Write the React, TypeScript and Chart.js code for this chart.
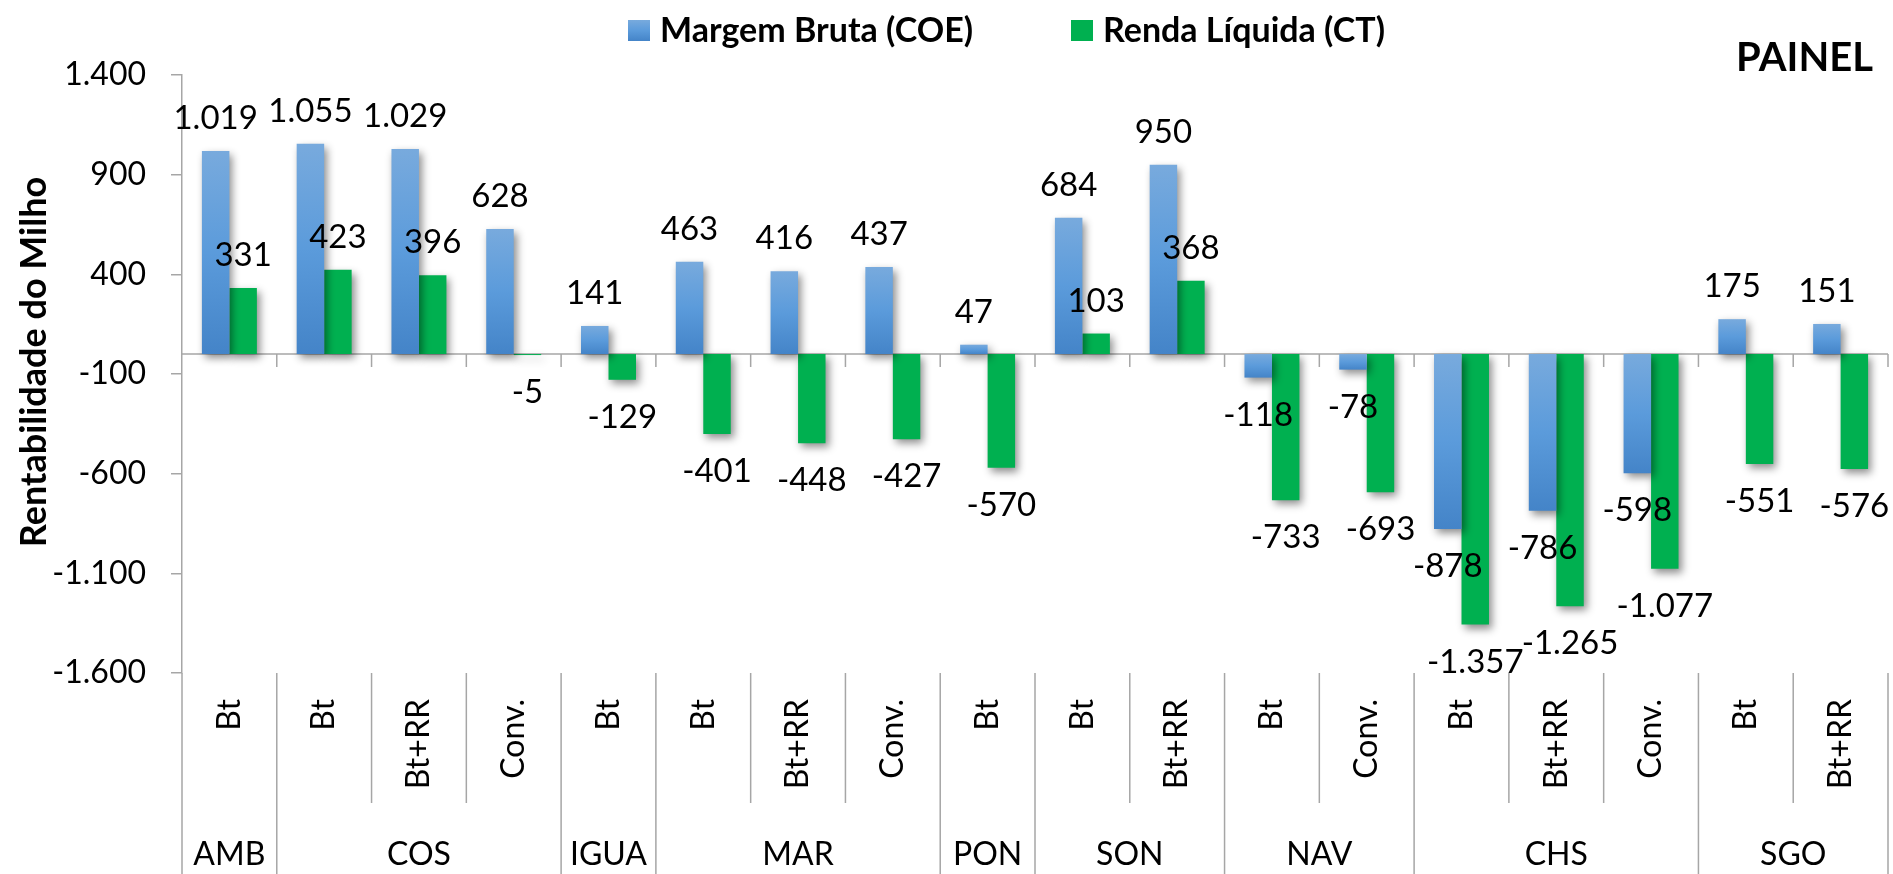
import React, { useEffect, useRef } from "react";
import { Chart, registerables } from "chart.js";

Chart.register(...registerables);

// ---------- data ----------
const groupLabels = [
  "AMB", "COS", "COS", "COS", "IGUA", "MAR", "MAR", "MAR", "PON",
  "SON", "SON", "NAV", "NAV", "CHS", "CHS", "CHS", "SGO", "SGO",
];
const varietyLabels = [
  "Bt", "Bt", "Bt+RR", "Conv.", "Bt", "Bt", "Bt+RR", "Conv.", "Bt",
  "Bt", "Bt+RR", "Bt", "Conv.", "Bt", "Bt+RR", "Conv.", "Bt", "Bt+RR",
];
const margemBruta = [
  1019, 1055, 1029, 628, 141, 463, 416, 437, 47,
  684, 950, -118, -78, -878, -786, -598, 175, 151,
];
const rendaLiquida = [
  331, 423, 396, -5, -129, -401, -448, -427, -570,
  103, 368, -733, -693, -1357, -1265, -1077, -551, -576,
];
const yTickValues = [-1600, -1100, -600, -100, 400, 900, 1400];
const seriesNames = ["Margem Bruta (COE)", "Renda Líquida (CT)"];
const panelTitle = "PAINEL";
const yAxisTitle = "Rentabilidade do Milho";

// ---------- helpers ----------
const fmt = (v: number) => {
  const s = Math.abs(Math.round(v)).toString().replace(/\B(?=(\d{3})+(?!\d))/g, ".");
  return v < 0 ? "-" + s : s;
};
const FONT = "Lato";
const GREEN = "#00b050";
const AXIS_GREY = "#a6a6a6";

function blueGradient(ctx: CanvasRenderingContext2D, top: number, bottom: number) {
  const g = ctx.createLinearGradient(0, top, 0, bottom);
  g.addColorStop(0, "#78aadd");
  g.addColorStop(0.5, "#5b9bdb");
  g.addColorStop(1, "#4484c8");
  return g;
}

export default function App() {
  const ref = useRef<HTMLCanvasElement>(null);

  useEffect(() => {
    document.body.style.margin = "0";
    const canvas = ref.current!;
    const H = 874;

    const decor = {
      id: "decor",
      beforeDatasetsDraw(chart: any) {
        const { ctx, chartArea, scales } = chart;
        const y0 = scales.y.getPixelForValue(0);
        const n = varietyLabels.length;
        const bw = (chartArea.right - chartArea.left) / n;
        ctx.save();
        ctx.strokeStyle = AXIS_GREY;
        ctx.lineWidth = 1.5;
        ctx.beginPath();
        ctx.moveTo(chartArea.left, y0);
        ctx.lineTo(chartArea.right, y0);
        for (let i = 1; i <= n; i++) {
          const x = chartArea.left + i * bw;
          ctx.moveTo(x, y0);
          ctx.lineTo(x, y0 + 13);
        }
        ctx.stroke();
        ctx.restore();
      },
      beforeDatasetDraw(chart: any) {
        const ctx = chart.ctx;
        ctx.save();
        ctx.shadowColor = "rgba(0,0,0,0.45)";
        ctx.shadowBlur = 8;
        ctx.shadowOffsetX = 3;
        ctx.shadowOffsetY = 4;
      },
      afterDatasetDraw(chart: any) {
        chart.ctx.restore();
      },
      afterDraw(chart: any) {
        const { ctx, chartArea } = chart;
        const n = varietyLabels.length;
        const bw = (chartArea.right - chartArea.left) / n;
        ctx.save();
        // separators in label area
        ctx.strokeStyle = AXIS_GREY;
        ctx.lineWidth = 1.5;
        ctx.beginPath();
        for (let i = 0; i <= n; i++) {
          const x = chartArea.left + i * bw;
          const isGroup = i === 0 || i === n || groupLabels[i] !== groupLabels[i - 1];
          ctx.moveTo(x, chartArea.bottom);
          ctx.lineTo(x, isGroup ? H : 803);
        }
        ctx.stroke();

        // group labels
        ctx.fillStyle = "#000";
        ctx.font = `32px ${FONT}`;
        ctx.textAlign = "center";
        ctx.textBaseline = "alphabetic";
        let start = 0;
        for (let i = 1; i <= n; i++) {
          if (i === n || groupLabels[i] !== groupLabels[start]) {
            const cx = chartArea.left + ((start + i) / 2) * bw;
            ctx.fillText(groupLabels[start], cx, 865);
            start = i;
          }
        }

        // data labels
        ctx.font = `33px ${FONT}`;
        chart.data.datasets.forEach((ds: any, di: number) => {
          const meta = chart.getDatasetMeta(di);
          meta.data.forEach((el: any, i: number) => {
            const v = ds.data[i];
            const y = v >= 0 ? el.y - 22 : el.y + 48;
            ctx.fillText(fmt(v), el.x, y);
          });
        });

        // legend
        ctx.font = `bold 34px ${FONT}`;
        ctx.textAlign = "left";
        ctx.textBaseline = "middle";
        const legendX = [628, 1071];
        seriesNames.forEach((name, i) => {
          const x = legendX[i];
          ctx.fillStyle = i === 0 ? blueGradient(ctx, 20, 41) : GREEN;
          ctx.fillRect(x, 20, 22, 21);
          ctx.fillStyle = "#000";
          ctx.fillText(name, x + 32, 31);
        });

        // panel title
        ctx.font = `bold 40px ${FONT}`;
        ctx.textAlign = "right";
        ctx.textBaseline = "alphabetic";
        ctx.fillText(panelTitle, 1873, 71);

        // y axis title
        ctx.translate(46, 362);
        ctx.rotate(-Math.PI / 2);
        ctx.font = `bold 36px ${FONT}`;
        ctx.textAlign = "center";
        ctx.textBaseline = "alphabetic";
        ctx.fillText(yAxisTitle, 0, 0);
        ctx.restore();
      },
    };

    const chart = new Chart(canvas, {
      type: "bar",
      data: {
        labels: varietyLabels,
        datasets: [
          {
            label: seriesNames[0],
            data: margemBruta,
            backgroundColor: (c: any) => {
              const sc = c.chart.scales?.y;
              const v = c.raw;
              if (!sc || typeof v !== "number") return "#5b9bdb";
              const a = sc.getPixelForValue(0);
              const b = sc.getPixelForValue(v);
              if (!isFinite(a) || !isFinite(b)) return "#5b9bdb";
              return blueGradient(c.chart.ctx, Math.min(a, b), Math.max(a, b) + 0.01);
            },
            borderWidth: 0,
            categoryPercentage: 0.58,
            barPercentage: 1,
          },
          {
            label: seriesNames[1],
            data: rendaLiquida,
            backgroundColor: GREEN,
            borderWidth: 0,
            categoryPercentage: 0.58,
            barPercentage: 1,
          },
        ],
      },
      options: {
        responsive: false,
        animation: false,
        devicePixelRatio: 1,
        layout: { padding: { left: 0, right: 5, top: 75, bottom: 0 } },
        plugins: { legend: { display: false }, tooltip: { enabled: false } },
        scales: {
          x: {
            type: "category",
            offset: true,
            grid: { display: false, drawTicks: false },
            border: { display: false },
            ticks: {
              autoSkip: false,
              maxRotation: 90,
              minRotation: 90,
              padding: 26,
              color: "#000",
              font: { family: FONT, size: 32 },
            },
            afterFit: (s: any) => {
              s.height = 201;
              s.paddingLeft = 0;
              s.paddingRight = 0;
            },
          },
          y: {
            min: -1600,
            max: 1400,
            afterBuildTicks: (s: any) => {
              s.ticks = yTickValues.map((v) => ({ value: v }));
            },
            grid: {
              display: true,
              drawOnChartArea: false,
              drawTicks: true,
              tickLength: 11,
              color: AXIS_GREY,
              lineWidth: 1.5,
            },
            border: { display: true, color: AXIS_GREY, width: 1.5 },
            ticks: {
              padding: 25,
              color: "#000",
              font: { family: FONT, size: 32 },
              callback: (v: any) => fmt(Number(v)),
            },
            afterFit: (s: any) => {
              s.width = 182;
            },
          },
        },
      },
      plugins: [decor],
    } as any);

    return () => chart.destroy();
  }, []);

  return (
    <div style={{ width: 1893, height: 874 }}>
      <canvas ref={ref} width={1893} height={874} style={{ display: "block", width: 1893, height: 874 }} />
    </div>
  );
}
